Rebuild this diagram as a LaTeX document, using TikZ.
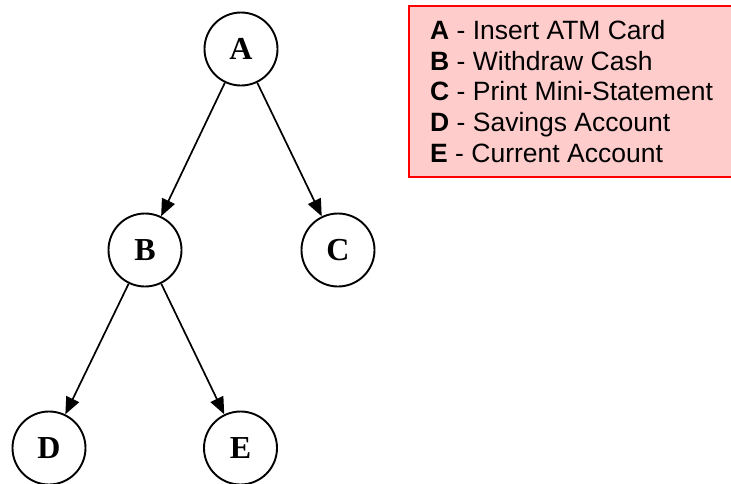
\documentclass[tikz,border=0pt]{standalone}
\usepackage{fontspec}
\setmainfont{Liberation Serif}
\newfontfamily\arialfont{Liberation Sans}
\usetikzlibrary{arrows.meta}
\definecolor{legfill}{HTML}{FFCCCC}
\definecolor{legdraw}{HTML}{FF0000}
\tikzset{
  treenode/.style={draw, circle, line width=1.9pt, minimum size=73pt, inner sep=0pt, font=\fontsize{32}{32}\selectfont\bfseries},
  treearrow/.style={line width=1.7pt, -{Triangle[length=17pt,width=14pt]}},
  legtext/.style={anchor=base west, inner sep=0pt, font=\arialfont\fontsize{26.5}{26.5}\selectfont},
}
\begin{document}
\begin{tikzpicture}[x=1pt,y=-1pt]
\useasboundingbox (0,0) rectangle (731,483);
\filldraw[fill=legfill, draw=legdraw, line width=2pt] (409,6) rectangle (733,177);
\node[legtext] (la) at (430,39.3) {\textbf{A} - Insert ATM Card};
\node[legtext] (lb) at (430,70) {\textbf{B} - Withdraw Cash};
\node[legtext] (lc) at (430,100.7) {\textbf{C} - Print Mini-Statement};
\node[legtext] (ld) at (430,131.2) {\textbf{D} - Savings Account};
\node[legtext] (le) at (430,162) {\textbf{E} - Current Account};
\node[treenode] (A) at (241,49) {A};
\node[treenode] (B) at (145,250) {B};
\node[treenode] (C) at (338,250) {C};
\node[treenode] (D) at (49,448) {D};
\node[treenode] (E) at (240.5,448) {E};
\draw[treearrow] (A) -- (B);
\draw[treearrow] (A) -- (C);
\draw[treearrow] (B) -- (D);
\draw[treearrow] (B) -- (E);
\end{tikzpicture}
\end{document}
